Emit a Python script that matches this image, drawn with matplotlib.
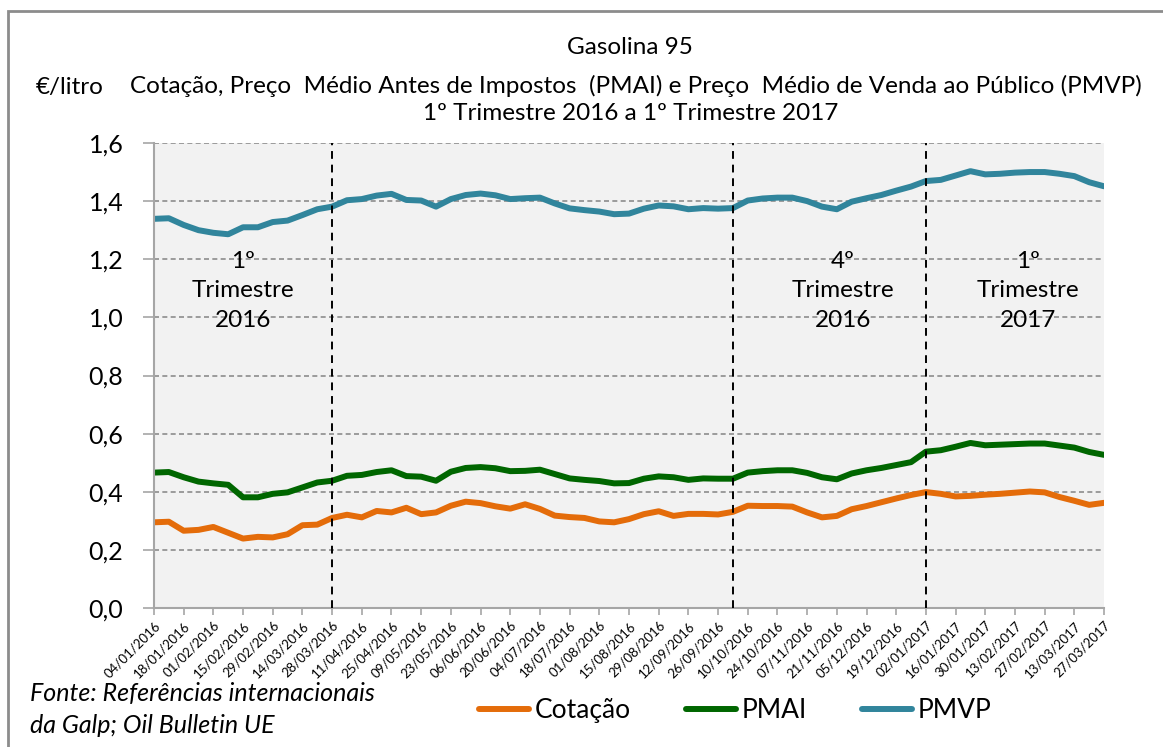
import matplotlib
matplotlib.use('Agg')
import matplotlib.pyplot as plt
from matplotlib.patches import Rectangle
import numpy as np
import pandas as pd

#### Dados (€/litro, semanal)
semanas = pd.date_range('2016-01-04', '2017-03-27', freq='7D')
rotulos = [d.strftime('%d/%m/%Y') for d in semanas]

cotacao = [0.295, 0.297, 0.266, 0.269, 0.279, 0.259, 0.239, 0.245, 0.243, 0.254,
           0.285, 0.287, 0.310, 0.321, 0.312, 0.334, 0.329, 0.345, 0.323, 0.329,
           0.352, 0.366, 0.361, 0.350, 0.342, 0.357, 0.341, 0.318, 0.313, 0.310,
           0.298, 0.295, 0.306, 0.323, 0.333, 0.317, 0.324, 0.324, 0.322, 0.331,
           0.352, 0.351, 0.351, 0.349, 0.329, 0.312, 0.317, 0.340, 0.351, 0.364,
           0.377, 0.389, 0.399, 0.393, 0.384, 0.386, 0.390, 0.393, 0.397, 0.401,
           0.398, 0.382, 0.369, 0.355, 0.362]

pmai = [0.466, 0.468, 0.450, 0.435, 0.429, 0.424, 0.381, 0.381, 0.393, 0.398,
        0.415, 0.432, 0.438, 0.455, 0.458, 0.468, 0.474, 0.454, 0.452, 0.438,
        0.469, 0.482, 0.485, 0.481, 0.471, 0.472, 0.476, 0.461, 0.446, 0.441,
        0.437, 0.429, 0.430, 0.445, 0.453, 0.450, 0.441, 0.446, 0.445, 0.445,
        0.466, 0.471, 0.474, 0.474, 0.465, 0.450, 0.443, 0.463, 0.474, 0.482,
        0.492, 0.502, 0.538, 0.543, 0.555, 0.568, 0.560, 0.562, 0.564, 0.566,
        0.566, 0.559, 0.552, 0.537, 0.527]

pmvp = [1.339, 1.341, 1.318, 1.300, 1.291, 1.286, 1.310, 1.310, 1.328, 1.333,
        1.352, 1.372, 1.381, 1.403, 1.407, 1.419, 1.425, 1.404, 1.402, 1.381,
        1.407, 1.421, 1.426, 1.420, 1.407, 1.410, 1.412, 1.392, 1.375, 1.369,
        1.364, 1.355, 1.357, 1.374, 1.385, 1.382, 1.372, 1.376, 1.374, 1.376,
        1.402, 1.409, 1.412, 1.412, 1.400, 1.381, 1.372, 1.398, 1.410, 1.421,
        1.436, 1.450, 1.469, 1.473, 1.488, 1.503, 1.492, 1.494, 1.498, 1.500,
        1.500, 1.494, 1.486, 1.465, 1.451]

# separadores de trimestre (posicao em semanas) e textos
separadores = [12, 39, 52]
trimestres = [(6, '1º\nTrimestre\n2016'), (46.4, '4º\nTrimestre\n2016'), (58.9, '1º\nTrimestre\n2017')]

plt.rcParams['font.family'] = ['Lato', 'DejaVu Sans']

fig = plt.figure(figsize=(11.63, 7.47), dpi=100)
ax = fig.add_axes([0.1324, 0.186, 0.8169, 0.6226])
ax.set_facecolor('#F2F2F2')

x = np.arange(len(semanas))
ax.plot(x, cotacao, color='#E46C0A', linewidth=4.3, solid_capstyle='round', label='Cotação')
ax.plot(x, pmai, color='#006600', linewidth=4.3, solid_capstyle='round', label='PMAI')
ax.plot(x, pmvp, color='#31859C', linewidth=4.3, solid_capstyle='round', label='PMVP')

for s in separadores:
    ax.axvline(s, color='black', linestyle=(0, (4, 3)), linewidth=1.4, zorder=3)

for xp, txt in trimestres:
    ax.text(xp, 1.092, txt, ha='center', va='center', fontsize=17.5, linespacing=1.5)

ax.set_xlim(0, 64)
ax.set_ylim(0, 1.6)
ax.set_yticks(np.arange(0, 1.61, 0.2))
ax.set_yticklabels(['{:.1f}'.format(v).replace('.', ',') for v in np.arange(0, 1.61, 0.2)], fontsize=18)
ax.yaxis.grid(True, linestyle=(0, (3, 2)), color='#8C8C8C', linewidth=1.2)
ax.set_axisbelow(True)

ax.set_xticks(x[::2])
ax.set_xticklabels(rotulos[::2], rotation=45, ha='right', rotation_mode='anchor', fontsize=9.5)

for lado in ['top', 'right']:
    ax.spines[lado].set_visible(False)
ax.spines['left'].set_color('#A6A6A6')
ax.spines['bottom'].set_color('#A6A6A6')
ax.spines['left'].set_linewidth(1.5)
ax.spines['bottom'].set_linewidth(1.5)
ax.tick_params(axis='y', length=8, color='#A6A6A6', width=1.2, pad=14)
ax.tick_params(axis='x', length=5, color='#A6A6A6', width=1.2, pad=3)

fig.text(0.542, 0.937, 'Gasolina 95', ha='center', va='center', fontsize=17.5)
fig.text(0.547, 0.885, 'Cotação, Preço  Médio Antes de Impostos  (PMAI) e Preço  Médio de Venda ao Público (PMVP)',
         ha='center', va='center', fontsize=17.5)
fig.text(0.542, 0.848, '1º Trimestre 2016 a 1º Trimestre 2017', ha='center', va='center', fontsize=17.5)
fig.text(0.031, 0.883, '€/litro', ha='left', va='center', fontsize=17.5)

fig.text(0.026, 0.050, 'Fonte: Referências internacionais\nda Galp; Oil Bulletin UE', ha='left', va='center',
         fontsize=18, style='italic', linespacing=1.45)

fig.legend(loc='center', bbox_to_anchor=(0.632, 0.049), ncol=3, frameon=False, fontsize=19,
           handlelength=1.9, handletextpad=0.2, columnspacing=2.1)

fig.patches.append(Rectangle((8 / 1163, -0.1), 1.2, 1.1 - 11 / 747, transform=fig.transFigure,
                             fill=False, edgecolor='#8C8C8C', linewidth=2))

fig.savefig('out.png', dpi=100)
